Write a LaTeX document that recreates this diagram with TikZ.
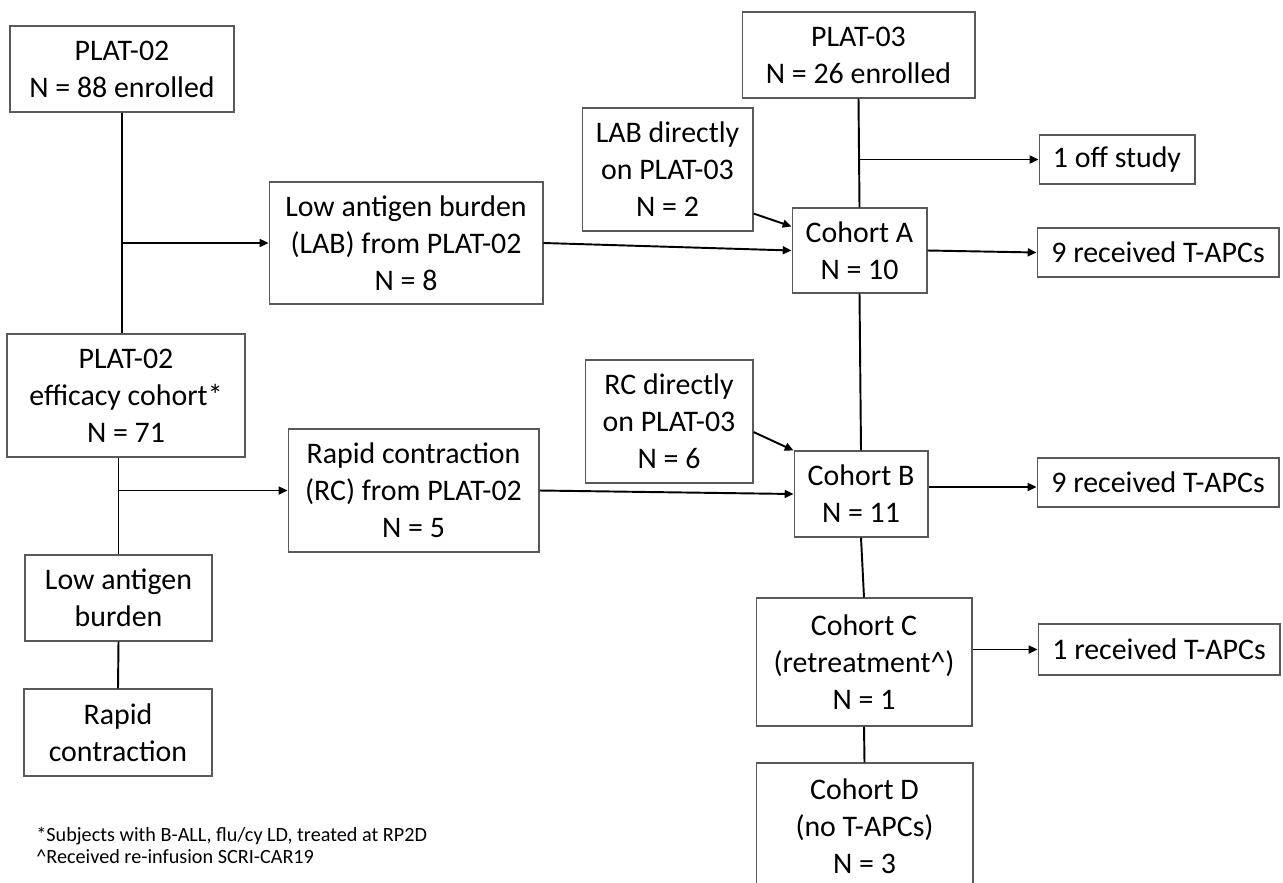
\documentclass[tikz,border=0pt]{standalone}
\usepackage{fontspec}
\setmainfont{Carlito}
\usetikzlibrary{arrows.meta, positioning, calc}

\begin{document}
\begin{tikzpicture}[
    x=0.02cm, y=-0.02cm,
    box/.style={draw=black!65, line width=0.6pt, align=center, inner sep=2pt, font=\fontsize{17}{21}\selectfont},
    arr/.style={-{Triangle[length=5pt, width=4.5pt]}, line width=1.1pt},
    link/.style={line width=1.1pt},
    note/.style={anchor=west, inner sep=0pt, font=\fontsize{11.5}{13.8}\selectfont},
]
\useasboundingbox (0,0) rectangle (1283,882);

% PLAT-02 side
\node[box, minimum width=4.48cm, minimum height=1.72cm] (plat02) at (122,69) {PLAT-02\\N = 88 enrolled};
\node[box, minimum width=5.48cm, minimum height=2.44cm] (lab02) at (406,243) {Low antigen burden\\(LAB) from PLAT-02\\N = 8};
\node[box, minimum width=4.76cm, minimum height=2.46cm] (eff) at (126,395.5) {PLAT-02\\efficacy cohort*\\N = 71};
\node[box, minimum width=5.02cm, minimum height=2.46cm] (rc02) at (413.5,490.5) {Rapid contraction\\(RC) from PLAT-02\\N = 5};
\node[box, minimum width=3.74cm, minimum height=1.72cm] (lowag) at (118.5,598) {Low antigen\\burden};
\node[box, minimum width=3.76cm, minimum height=1.74cm] (rapid) at (118,732.5) {Rapid\\contraction};

\draw[link] (plat02.south) -- (plat02.south |- eff.north);
\draw[arr] (plat02.south |- lab02.west) -- (lab02.west);
\draw[link] (lowag.north |- eff.south) -- (lowag.north);
\draw[arr] (lowag.north |- rc02.west) -- (rc02.west);
\draw[link] (lowag.south) -- (rapid.north);

% PLAT-03 side
\node[box, minimum width=4.66cm, minimum height=1.72cm] (plat03) at (858.5,55) {PLAT-03\\N = 26 enrolled};
\node[box, minimum width=3.12cm, minimum height=0.98cm] (offstudy) at (1117,159.5) {1 off study};
\node[box, minimum width=3.42cm, minimum height=2.46cm] (labdir) at (667.5,169.5) {LAB directly\\on PLAT-03\\N = 2};
\node[box, minimum width=2.70cm, minimum height=1.70cm] (cohA) at (859.5,250.5) {Cohort A\\N = 10};
\node[box, minimum width=4.84cm, minimum height=0.98cm] (recA) at (1158,252.5) {9 received T-APCs};
\node[box, minimum width=3.36cm, minimum height=2.46cm] (rcdir) at (669,421.5) {RC directly\\on PLAT-03\\N = 6};
\node[box, minimum width=2.68cm, minimum height=1.72cm] (cohB) at (861,494) {Cohort B\\N = 11};
\node[box, minimum width=4.84cm, minimum height=0.98cm] (recB) at (1158,482.5) {9 received T-APCs};
\node[box, minimum width=4.32cm, minimum height=2.56cm] (cohC) at (864,662) {Cohort C\\(retreatment\textasciicircum)\\N = 1};
\node[box, minimum width=4.84cm, minimum height=1.02cm] (recC) at (1159,649.5) {1 received T-APCs};
\node[box, minimum width=4.34cm, minimum height=2.54cm] (cohD) at (864.5,826.5) {Cohort D\\(no T-APCs)\\N = 3};

\draw[link] (plat03.south) -- (cohA.north);
\draw[arr] (plat03.south |- offstudy.west) -- (offstudy.west);
\draw[arr] ([yshift=0.36cm]labdir.south east) -- ([yshift=-0.38cm]cohA.north west);
\draw[arr] (lab02.east) -- (cohA.west);
\draw[arr] (cohA.east) -- (recA.west);
\draw[link] (cohA.south) -- (cohB.north);
\draw[arr] ([yshift=-0.21cm]rcdir.east) -- (cohB.north west);
\draw[arr] (rc02.east) -- (cohB.west);
\draw[arr] ([yshift=0.14cm]cohB.east) -- ([yshift=0.14cm]cohB.east -| recB.west);
\draw[link] (cohB.south) -- (cohC.north);
\draw[arr] (cohC.east |- recC.west) -- (recC.west);
\draw[link] (cohC.south) -- (cohD.north);

% footnotes
\node[note] (fn1) at (36,836) {*Subjects with B-ALL, flu/cy LD, treated at RP2D};
\node[note, below=0.08cm of fn1.south west, anchor=north west] (fn2) {\textasciicircum Received re-infusion SCRI-CAR19};

\end{tikzpicture}
\end{document}
